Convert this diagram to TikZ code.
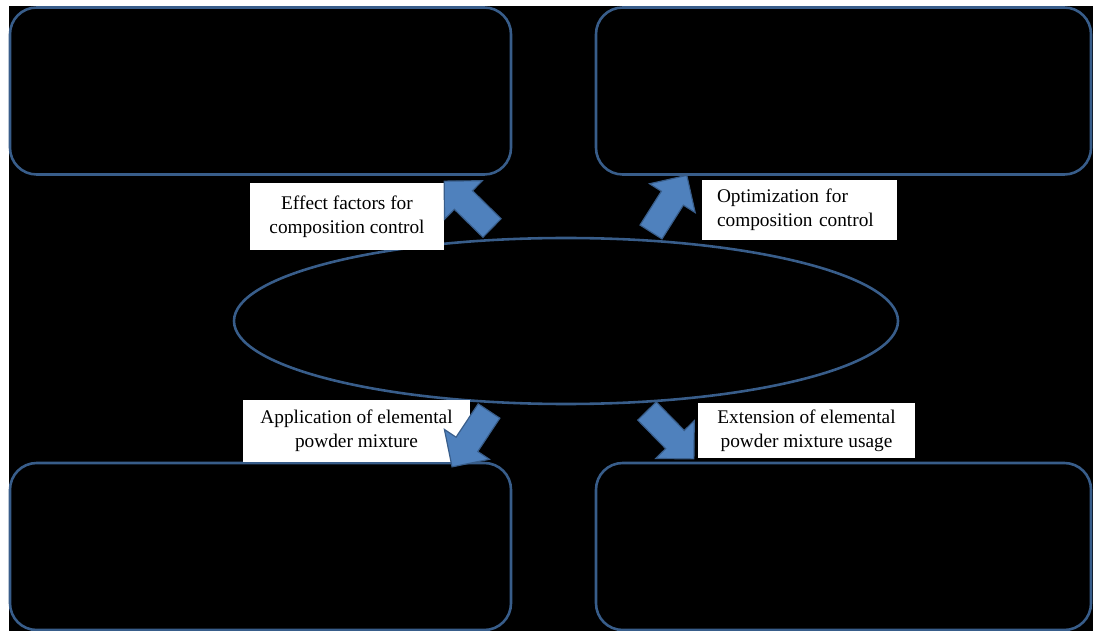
\documentclass[tikz,border=0pt]{standalone}
\usepackage{fontspec}
\setmainfont{Liberation Serif}
\usetikzlibrary{positioning}
\usetikzlibrary{shapes.geometric}
\definecolor{BLUE_LINE}{HTML}{385D8A}
\definecolor{BLUE_FILL}{HTML}{4F81BD}
\tikzset{
	every node/.style = {font=\fontsize{16.5}{20.5}\selectfont},
	stage/.style = {draw=BLUE_LINE, line width=2.2pt, rounded corners=8mm, minimum height=50.1mm},
	hub/.style = {ellipse, draw=BLUE_LINE, line width=2.2pt, minimum width=199.2mm, minimum height=49.8mm},
	tag/.style = {fill=white, text=black, inner sep=1pt, align=center},
	% block arrow, tail at origin, pointing along x
	blockarrow/.pic = {
		\draw[fill=BLUE_FILL, draw=BLUE_LINE, line width=1pt]
		  (0,-13) -- (40,-13) -- (40,-27) -- (67,0) -- (40,27) -- (40,13) -- (0,13) -- cycle;
	}
}
\begin{document}
\begin{tikzpicture}[x=0.3mm, y=-0.3mm]
		% page
		\fill[white] (0,0) rectangle (1093,631);
		\useasboundingbox (0,0) rectangle (1093,631);
		\fill[black] (9,6) rectangle (1093,631);
		% four outer boxes
		\node[stage, minimum width=150.3mm] (topleft) at (260.5,91) {};
		\node[stage, minimum width=148.5mm] (topright) at (843.5,91) {};
		\node[stage, minimum width=150.3mm] (bottomleft) at (260.5,546.5) {};
		\node[stage, minimum width=148.5mm] (bottomright) at (843.5,546.5) {};
		% centre
		\node[hub] (core) at (566,321) {};
		% labels
		\node[tag, minimum width=58.2mm, minimum height=20.1mm] (effectlbl) at (347,216.5) {Effect factors for\\composition control};
		\node[tag, align=left, text width=49.5mm, inner xsep=4.5mm, minimum height=18mm] (optlbl) at (799.5,210) {Optimization for\\composition control};
		\node[tag, minimum width=68.1mm, minimum height=18.6mm] (applbl) at (356.5,431) {Application of elemental\\powder mixture};
		\node[tag, minimum width=65.1mm, minimum height=16.5mm] (extlbl) at (806.5,430.5) {Extension of elemental\\powder mixture usage};
		% arrows
		\pic[rotate=135.6] at (492,228) {blockarrow};
		\pic[rotate=57.7] at (651,232) {blockarrow};
		\pic[rotate=236.5] at (489,411) {blockarrow};
		\pic[rotate=-45.6] at (647,411) {blockarrow};
	\end{tikzpicture}
\end{document}
